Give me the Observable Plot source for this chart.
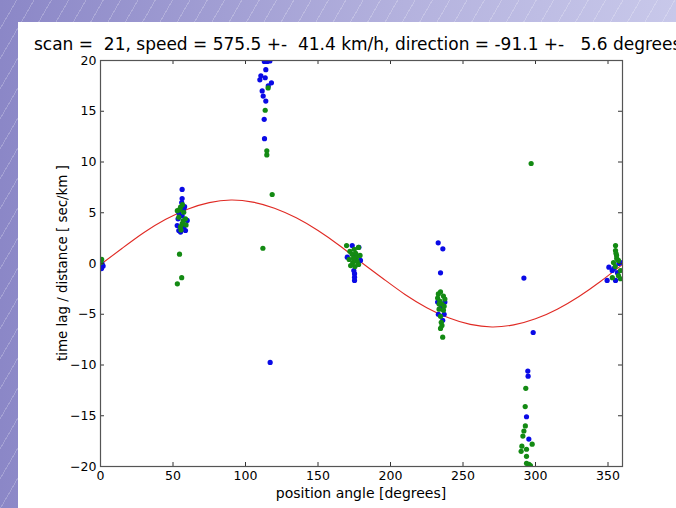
<!DOCTYPE html>
<html>
<head>
<meta charset="utf-8">
<script src="https://cdn.jsdelivr.net/npm/d3@7"></script>
<script src="https://cdn.jsdelivr.net/npm/@observablehq/plot@0.6"></script>
<style>
  body { margin: 0; }
  #page {
    position: relative; width: 676px; height: 508px; overflow: hidden;
    background:
      repeating-linear-gradient(120deg, rgba(255,255,255,0) 0px, rgba(255,255,255,0) 14px, rgba(255,255,255,0.22) 14px, rgba(255,255,255,0.22) 15px),
      linear-gradient(to right, #8b87c7, #b4b2de 60%, #c8c8ea);
    font-family: "DejaVu Sans", sans-serif;
  }
  #panel { position: absolute; left: 18px; top: 22px; width: 658px; height: 486px; background: #fff; }
  #chart { position: absolute; left: 18px; top: 22px; }
  #title { position: absolute; top: 34px; left: 34px; white-space: pre; font-size: 17px; color: #000; line-height: 20px; }
  #xlabel { position: absolute; top: 485px; left: 361px; transform: translateX(-50%); white-space: pre; font-size: 14px; line-height: 16px; color: #000; }
  #ylabel { position: absolute; left: 62px; top: 263px; transform: translate(-50%, -50%) rotate(-90deg); white-space: pre; font-size: 13.4px; line-height: 15px; color: #000; }
</style>
</head>
<body>
<div id="page">
  <div id="panel"></div>
  <div id="title"></div>
  <div id="chart"></div>
  <div id="xlabel"></div>
  <div id="ylabel"></div>
</div>
<script>
// ---- data ----
const titleText = "scan =  21, speed = 575.5 +-  41.4 km/h, direction = -91.1 +-   5.6 degrees";
const xLabel = "position angle [degrees]";
const yLabel = "time lag / distance [ sec/km ]";
const xTicks = [0, 50, 100, 150, 200, 250, 300, 350];
const yTicks = [-20, -15, -10, -5, 0, 5, 10, 15, 20];

const blueAngle = [1.1, 1.8, 0.7, 0.3,
  56.3, 56.3, 56, 54, 58.6, 52.9, 59.8, 56.3, 57.4, 54, 55.2, 57.4, 53.5, 58,
  113, 115, 116.8, 114, 110.6, 109.9, 113.6, 117.9, 115.7, 111.5, 112.2, 114, 112.9, 113.1, 117,
  173.6, 178.2, 170.2, 179.3, 174.7, 175.2, 175.2, 175.2, 176,
  232.9, 236.1, 234.5, 232.5, 237.5, 233, 237, 235, 236,
  292, 298.4, 294.7, 294.9, 293.8, 295.4,
  350.6, 352.9, 349.4, 355.2, 357.5, 358.6, 354, 356.5];
const blueLag = [-0.03, -0.25, -0.5, -0.3,
  7.3, 6.4, 6.0, 3.25, 3.25, 3.74, 4.24, 4.7, 5.4, 5.0, 3.1, 3.6, 4.4, 5.6,
  19.9, 19.9, 19.95, 19.1, 18.5, 18.1, 18.3, 17.8, 17.5, 17.0, 16.5, 16.0, 14.2, 12.3, -9.75,
  1.77, 1.6, 0.62, 0.3, -0.69, -1.0, -1.35, -1.67, 0.9,
  2.04, 1.45, -0.92, -3.8, -3.8, -5.0, -5.0, -4.3, -5.6,
  -1.44, -6.8, -10.6, -11.1, -15.1, -17.3,
  -0.36, -0.69, -1.67, -1.67, 0, 0.1, -0.5, -0.9];

const greenAngle = [0.8, 0.2,
  55.2, 57.4, 54, 58.6, 56.3, 55.2, 56.5, 54.6, 53, 57, 55.5, 59, 54.5, 56, 53,
  115.6, 113.6, 114.7, 114.7, 118.4, 112,
  169.7, 177.9, 172, 175, 176.5, 173.5, 179, 177, 174, 171.5, 178, 175.5, 172.5, 176, 174.5,
  234.5, 233, 236.5, 232.5, 237.5, 234, 235.5, 233.5, 236.5, 234.5, 235, 234.5, 235.5, 236, 233.5, 237,
  297, 293.3, 292.9, 293, 292, 291.3, 297.7, 290.6, 293.8, 290.1, 293.8, 293.8, 295.5, 296.5,
  355.2, 355.2, 355.9, 357.2, 353.8, 358.6, 357.2, 353, 358.6, 355, 356, 355.5];
const greenLag = [0.4, 0.1,
  5.55, 5.05, 4.56, 4.4, 3.9, 3.6, 5.8, 5.3, 5.2, 4.2, 3.3, 3.8, 0.92, -1.4, -2.0,
  17.3, 15.1, 11.1, 10.7, 6.8, 1.5,
  1.77, 1.58, 1.2, 1.4, 0.6, 0.9, 0.8, 0.2, 0.1, 0.4, -0.1, -0.3, -0.2, 1.0, 0.5,
  -2.8, -3.0, -3.2, -3.4, -3.5, -3.7, -4.0, -4.5, -4.6, -5.2, -5.8, -6.4, -6.1, -7.26, -4.0, -4.2,
  9.85, -12.3, -14.1, -16.0, -16.5, -17.0, -17.8, -18.0, -18.3, -18.5, -19.0, -19.7, -19.8, -19.9,
  1.77, 1.28, 0.8, 0.3, 0.1, -0.7, -1.2, -1.4, -1.5, -0.3, 0.5, 1.0];

// fitted curve, every 15 degrees
const curveAngle = [0, 15, 30, 45, 60, 75, 90, 105, 120, 135, 150, 165, 180, 195, 210, 225, 240, 255, 270, 285, 300, 315, 330, 345, 360];
const curveLag = [-0.1, 1.5, 3.05, 4.35, 5.35, 6.0, 6.25, 6.05, 5.45, 4.5, 3.25, 1.75, 0.1, -1.5, -3.05, -4.35, -5.35, -6.0, -6.25, -6.05, -5.45, -4.5, -3.25, -1.75, -0.1];

// ---- tables ----
const blue = blueAngle.map((a, i) => ({angle: a, lag: blueLag[i]}));
const green = greenAngle.map((a, i) => ({angle: a, lag: greenLag[i]}));
const curve = curveAngle.map((a, i) => ({angle: a, lag: curveLag[i]}));

document.getElementById("title").textContent = titleText;
document.getElementById("xlabel").textContent = xLabel;
document.getElementById("ylabel").textContent = yLabel;

const frameW = 522, frameH = 406, tickLen = 4;

const chart = Plot.plot({
  width: 658,
  height: 486,
  marginLeft: 82,
  marginRight: 54,
  marginTop: 38,
  marginBottom: 42,
  style: {background: "transparent", fontFamily: "DejaVu Sans, sans-serif", fontSize: "12.5px", color: "#000"},
  x: {domain: [0, 360]},
  y: {domain: [-20, 20]},
  marks: [
    Plot.line(curve, {x: "angle", y: "lag", stroke: "#e02a24", strokeWidth: 1.1, curve: "natural", clip: true}),
    Plot.dot(blue, {x: "angle", y: "lag", r: 2.6, fill: "#0a0ae6", stroke: "none", clip: true}),
    Plot.dot(green, {x: "angle", y: "lag", r: 2.6, fill: "#138a13", stroke: "none", clip: true}),
    Plot.tickX(xTicks, {x: d => d, stroke: "#333", insetTop: frameH - tickLen}),
    Plot.tickX(xTicks, {x: d => d, stroke: "#333", insetBottom: frameH - tickLen}),
    Plot.tickY(yTicks, {y: d => d, stroke: "#333", insetRight: frameW - tickLen}),
    Plot.tickY(yTicks, {y: d => d, stroke: "#333", insetLeft: frameW - tickLen}),
    Plot.axisX({ticks: xTicks, tickSize: 0, tickPadding: 5, label: null, tickFormat: d3.format("d")}),
    Plot.axisY({ticks: yTicks, tickSize: 0, tickPadding: 4, label: null, tickFormat: d => (d < 0 ? "\u2212" + Math.abs(d) : String(d))}),
    Plot.frame({stroke: "#555", strokeWidth: 1.2})
  ]
});
document.getElementById("chart").appendChild(chart);
</script>
</body>
</html>
